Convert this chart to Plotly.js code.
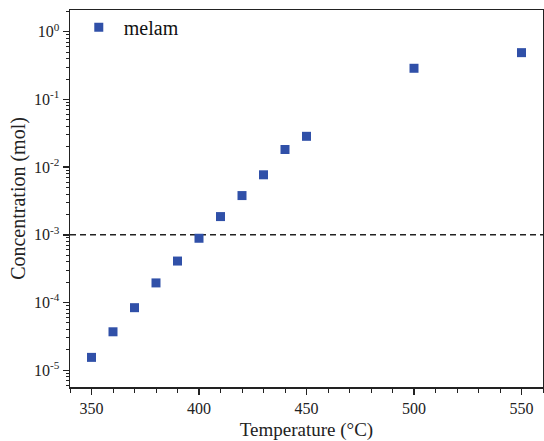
<!DOCTYPE html>
<html>
<head>
<meta charset="utf-8">
<script src="https://cdn.plot.ly/plotly-3.0.1.min.js"></script>
<style>html,body{margin:0;padding:0;background:#fff;}#chart{width:544px;height:441px;}</style>
</head>
<body>
<div id="chart"></div>
<script>
const temperatures = [350, 360, 370, 380, 390, 400, 410, 420, 430, 440, 450, 500, 550];
const melam = [1.55e-5, 3.7e-5, 8.4e-5, 1.95e-4, 4.1e-4, 8.9e-4, 1.86e-3, 3.8e-3, 7.7e-3, 1.82e-2, 2.85e-2, 0.288, 0.49];
const thresholdX = [340, 560];
const thresholdY = [1e-3, 1e-3];
const seriesName = 'melam';
const yTickVals = [1e-5, 1e-4, 1e-3, 1e-2, 1e-1, 1];
const yTickText = ['10<sup>-5</sup>', '10<sup>-4</sup>', '10<sup>-3</sup>', '10<sup>-2</sup>', '10<sup>-1</sup>', '10<sup>0</sup>'];

const font = 'Liberation Serif';

const traces = [
  {
    x: thresholdX, y: thresholdY, mode: 'lines', showlegend: false, hoverinfo: 'skip',
    line: {color: '#222', width: 1.5, dash: '6px,4px'}
  },
  {
    x: temperatures, y: melam, mode: 'markers', name: seriesName,
    marker: {symbol: 'square', size: 9, color: '#3050a8', line: {width: 0}}
  }
];

const layout = {
  width: 544, height: 441,
  margin: {l: 70, r: 1, t: 10, b: 54},
  paper_bgcolor: '#fff', plot_bgcolor: '#fff',
  font: {family: font, size: 16, color: '#222'},
  showlegend: true,
  legend: {x: 0.008, y: 1.006, xanchor: 'left', yanchor: 'top', bgcolor: 'rgba(0,0,0,0)',
           itemwidth: 40,
           font: {family: font, size: 20, color: '#111'}},
  xaxis: {
    range: [340, 560], showgrid: false, zeroline: false,
    showline: true, linecolor: '#222', linewidth: 1.5, mirror: true,
    ticks: 'outside', ticklen: 6, tickwidth: 1.5, tickcolor: '#222',
    tick0: 350, dtick: 50,
    minor: {ticks: 'outside', ticklen: 4, tickwidth: 1, tickcolor: '#222', dtick: 10, tick0: 350, showgrid: false},
    tickfont: {family: font, size: 16, color: '#222'},
    title: {text: 'Temperature (°C)', font: {family: font, size: 19, color: '#222'}, standoff: 12}
  },
  yaxis: {
    type: 'log', range: [-5.247, 0.32], showgrid: false, zeroline: false,
    showline: true, linecolor: '#222', linewidth: 1.5, mirror: true,
    ticks: 'outside', ticklen: 6, tickwidth: 1.5, tickcolor: '#222',
    tickmode: 'array', tickvals: yTickVals, ticktext: yTickText,
    minor: {ticks: 'outside', ticklen: 3, tickwidth: 1, tickcolor: '#222', dtick: 'D1', showgrid: false},
    tickfont: {family: font, size: 16, color: '#222'},
    title: {text: 'Concentration (mol)', font: {family: font, size: 20, color: '#222'}, standoff: 3}
  }
};

Plotly.newPlot('chart', traces, layout, {displayModeBar: false, staticPlot: true});
</script>
</body>
</html>
